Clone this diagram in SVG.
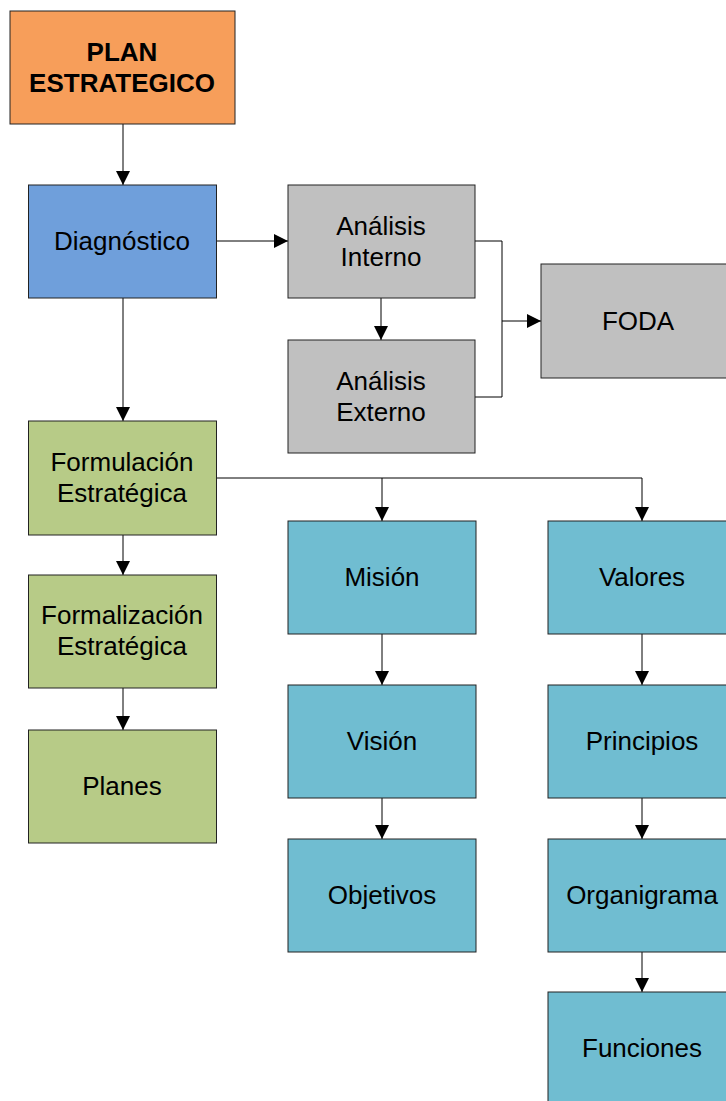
<svg xmlns="http://www.w3.org/2000/svg" width="726" height="1101" viewBox="0 0 726 1101">
<defs>
<style>
.box{stroke:#222;stroke-width:1}
.t{font-family:"Liberation Sans",Arial,sans-serif;font-size:26px;fill:#000;text-anchor:middle}
.b{font-weight:bold}
.c{fill:none;stroke:#000;stroke-width:1}
.or{fill:#F79E5A}.bl{fill:#6F9FDB}.gr{fill:#C0C0C0}.gn{fill:#B7CB87}.tl{fill:#70BDD1}
</style>
<marker id="ar" viewBox="0 0 14 14" refX="14" refY="7" markerWidth="14" markerHeight="14" markerUnits="userSpaceOnUse" orient="auto">
<path d="M0,0 L14,7 L0,14 Z" fill="#000"/>
</marker>
</defs>
<rect width="726" height="1101" fill="#fff"/>
<g id="connectors">
<path class="c" d="M123,124 V185" marker-end="url(#ar)"/>
<path class="c" d="M216,241 H288" marker-end="url(#ar)"/>
<path class="c" d="M381,298 V340" marker-end="url(#ar)"/>
<path class="c" d="M475,241 H502 V397 H475"/>
<path class="c" d="M502,321 H541" marker-end="url(#ar)"/>
<path class="c" d="M123,298 V421" marker-end="url(#ar)"/>
<path class="c" d="M123,535 V575" marker-end="url(#ar)"/>
<path class="c" d="M123,688 V730" marker-end="url(#ar)"/>
<path class="c" d="M216,478 H642 V521" marker-end="url(#ar)"/>
<path class="c" d="M382,478 V521" marker-end="url(#ar)"/>
<path class="c" d="M382,634 V685" marker-end="url(#ar)"/>
<path class="c" d="M382,798 V839" marker-end="url(#ar)"/>
<path class="c" d="M642,634 V685" marker-end="url(#ar)"/>
<path class="c" d="M642,798 V839" marker-end="url(#ar)"/>
<path class="c" d="M642,952 V992" marker-end="url(#ar)"/>
</g>
<g id="plan"><rect class="box or" x="10" y="11" width="225" height="113"/><text class="t b" x="122" y="61">PLAN</text><text class="t b" x="122" y="92">ESTRATEGICO</text></g>
<g id="diagnostico"><rect class="box bl" x="28.5" y="185" width="188" height="113"/><text class="t" x="122" y="250">Diagnóstico</text></g>
<g id="interno"><rect class="box gr" x="288" y="185" width="187" height="113"/><text class="t" x="381" y="235">Análisis</text><text class="t" x="381" y="266">Interno</text></g>
<g id="externo"><rect class="box gr" x="288" y="340" width="187" height="113"/><text class="t" x="381" y="390">Análisis</text><text class="t" x="381" y="421">Externo</text></g>
<g id="foda"><rect class="box gr" x="541" y="264" width="188" height="114"/><text class="t" x="638" y="330">FODA</text></g>
<g id="formulacion"><rect class="box gn" x="28.5" y="421" width="188" height="114"/><text class="t" x="122" y="471">Formulación</text><text class="t" x="122" y="502">Estratégica</text></g>
<g id="formalizacion"><rect class="box gn" x="28.5" y="575" width="188" height="113"/><text class="t" x="122" y="624">Formalización</text><text class="t" x="122" y="655">Estratégica</text></g>
<g id="planes"><rect class="box gn" x="28.5" y="730" width="188" height="113"/><text class="t" x="122" y="795">Planes</text></g>
<g id="mision"><rect class="box tl" x="288" y="521" width="188" height="113"/><text class="t" x="382" y="586">Misión</text></g>
<g id="vision"><rect class="box tl" x="288" y="685" width="188" height="113"/><text class="t" x="382" y="750">Visión</text></g>
<g id="objetivos"><rect class="box tl" x="288" y="839" width="188" height="113"/><text class="t" x="382" y="904">Objetivos</text></g>
<g id="valores"><rect class="box tl" x="548" y="521" width="188" height="113"/><text class="t" x="642" y="586">Valores</text></g>
<g id="principios"><rect class="box tl" x="548" y="685" width="188" height="113"/><text class="t" x="642" y="750">Principios</text></g>
<g id="organigrama"><rect class="box tl" x="548" y="839" width="188" height="113"/><text class="t" x="642" y="904">Organigrama</text></g>
<g id="funciones"><rect class="box tl" x="548" y="992" width="188" height="113"/><text class="t" x="642" y="1057">Funciones</text></g>
</svg>
